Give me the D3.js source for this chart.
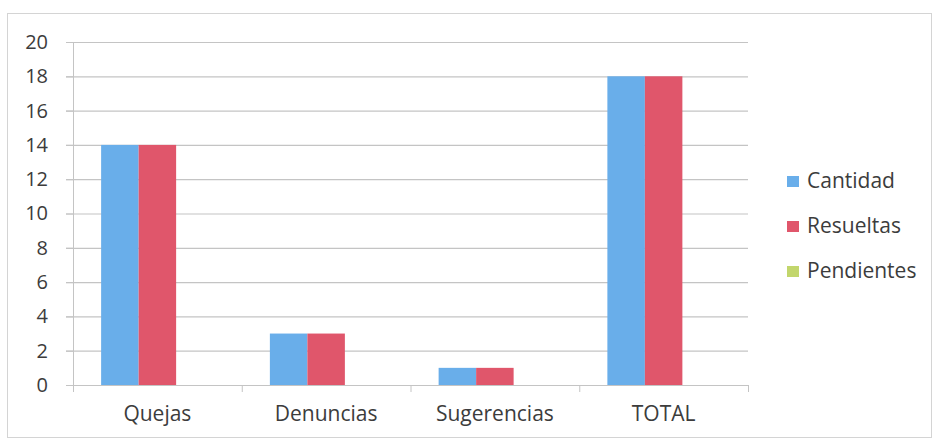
<!DOCTYPE html>
<html><head><meta charset="utf-8">
<script src="https://cdn.jsdelivr.net/npm/d3@7"></script>
<style>body{margin:0;background:#fff}svg{display:block}text{font-family:"Open Sans",Lato,sans-serif;fill:#3c3c3c}</style>
</head><body><svg id="c" width="934" height="441"></svg>
<script>
const categories = ["Quejas","Denuncias","Sugerencias","TOTAL"];
const seriesNames = ["Cantidad","Resueltas","Pendientes"];
const cantidad = [14,3,1,18];
const resueltas = [14,3,1,18];
const pendientes = [0,0,0,0];
const yTicks = [0,2,4,6,8,10,12,14,16,18,20];
const colors = ["#69aeea","#e0566b","#c2d66c"];

const svg = d3.select("#c");
svg.append("rect").attr("x",7.5).attr("y",13.5).attr("width",924).attr("height",424)
  .attr("fill","none").attr("stroke","#d4d4d4");

const pL=73, pR=748, pT=42, pB=385;
const x = d3.scaleBand().domain(categories).range([pL,pR]).paddingInner(0).paddingOuter(0);
const x1 = d3.scaleBand().domain(seriesNames).range([0,x.bandwidth()]).paddingInner(0).paddingOuter(0.75);
const y = d3.scaleLinear().domain([0,20]).range([pB,pT]);

// gridlines
svg.append("g").selectAll("line").data(yTicks.filter(d=>d>0)).join("line")
  .attr("x1",pL-7).attr("x2",pR).attr("y1",d=>y(d)+0.5).attr("y2",d=>y(d)+0.5)
  .attr("stroke","#c4c4c4").attr("stroke-width",1.2);

// y axis
const ya = svg.append("g").attr("transform",`translate(${pL},0)`)
  .call(d3.axisLeft(y).tickValues(yTicks).tickSize(7).tickPadding(18));
ya.select(".domain").attr("stroke","#c4c4c4");
ya.selectAll(".tick line").attr("stroke","#c4c4c4");
ya.selectAll("text").style("font-size","20px").attr("fill","#3c3c3c");

// bars
const data = categories.map((c,i)=>({c, vals:[cantidad[i],resueltas[i],pendientes[i]]}));
const g = svg.append("g").selectAll("g").data(data).join("g")
  .attr("transform",d=>`translate(${x(d.c)},0)`);
g.selectAll("rect").data(d=>d.vals.map((v,j)=>({v,s:seriesNames[j],j}))).join("rect")
  .attr("x",d=>x1(d.s)).attr("width",x1.bandwidth())
  .attr("y",d=>y(d.v)).attr("height",d=>pB-y(d.v)).attr("fill",d=>colors[d.j]);

// x axis
const xa = svg.append("g").attr("transform",`translate(0,${pB})`)
  .call(d3.axisBottom(x).tickSize(0).tickPadding(21));
xa.select(".domain").attr("stroke","#c4c4c4").attr("stroke-width",1.2);
xa.selectAll("text").style("font-size","21px").attr("fill","#3c3c3c");
const bounds = categories.map(c=>x(c)).concat([pR]);
svg.append("g").selectAll("line").data(bounds).join("line")
  .attr("x1",d=>d+0.5).attr("x2",d=>d+0.5).attr("y1",pB).attr("y2",pB+7)
  .attr("stroke","#c4c4c4");

// legend
const lg = svg.append("g").selectAll("g").data(seriesNames).join("g")
  .attr("transform",(d,i)=>`translate(787,${181+i*45})`);
lg.append("rect").attr("x",0).attr("y",-5).attr("width",12).attr("height",11).attr("fill",(d,i)=>colors[i]);
lg.append("text").attr("x",20).attr("y",0).attr("dy","0.35em").style("font-size","21px").text(d=>d);
</script></body></html>
